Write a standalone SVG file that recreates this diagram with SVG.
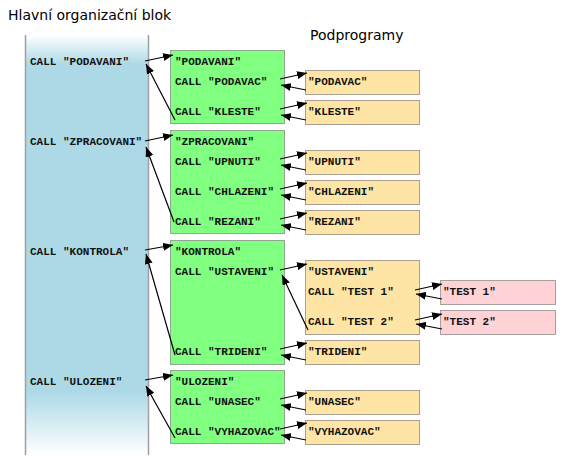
<svg xmlns="http://www.w3.org/2000/svg" width="570" height="460" viewBox="0 0 570 460">
<style>
.h{font-family:"DejaVu Sans",Verdana,sans-serif;font-size:14px;fill:#000}
.m{font-family:"Liberation Mono","Courier New",monospace;font-size:11px;font-weight:bold;fill:#111}
.g{fill:#80ff80;stroke:#8fa88f;stroke-width:1}
.y{fill:#ffe5a5;stroke:#a8a090;stroke-width:1}
.p{fill:#ffd3d6;stroke:#a8a0a0;stroke-width:1}
.a{fill:none;stroke:#000;stroke-width:1.2;marker-end:url(#ah)}
</style>
<defs>
<linearGradient id="bg" x1="0" y1="0" x2="0" y2="1">
<stop offset="0" stop-color="#ffffff"/>
<stop offset="0.07" stop-color="#add9e7"/>
<stop offset="0.85" stop-color="#add9e7"/>
<stop offset="1" stop-color="#ffffff"/>
</linearGradient>
<marker id="ah" viewBox="0 0 10 8" refX="10" refY="4" markerWidth="10" markerHeight="8" markerUnits="userSpaceOnUse" orient="auto">
<path d="M0,0 L10,4 L0,8 Z" fill="#000"/>
</marker>
</defs>
<rect width="570" height="460" fill="#fff"/>
<text class="h" x="8" y="20">Hlavní organizační blok</text>
<text class="h" x="310" y="40">Podprogramy</text>

<g id="main">
<rect x="25" y="35" width="124" height="420" fill="url(#bg)"/>
<line x1="25.5" y1="35" x2="25.5" y2="455" stroke="#a0a0a0" stroke-width="1.5"/>
<line x1="148.5" y1="35" x2="148.5" y2="455" stroke="#a0a0a0" stroke-width="1.5"/>
<text class="m" x="30" y="65">CALL "PODAVANI"</text>
<text class="m" x="30" y="145">CALL "ZPRACOVANI"</text>
<text class="m" x="30" y="255">CALL "KONTROLA"</text>
<text class="m" x="30" y="385">CALL "ULOZENI"</text>
</g>

<g id="podavani">
<rect class="g" x="170.5" y="50.5" width="114" height="73"/>
<text class="m" x="175" y="65">"PODAVANI"</text>
<text class="m" x="175" y="85">CALL "PODAVAC"</text>
<text class="m" x="175" y="115">CALL "KLESTE"</text>
</g>
<g id="zpracovani">
<rect class="g" x="170.5" y="130.5" width="114" height="103"/>
<text class="m" x="175" y="145">"ZPRACOVANI"</text>
<text class="m" x="175" y="165">CALL "UPNUTI"</text>
<text class="m" x="175" y="195">CALL "CHLAZENI"</text>
<text class="m" x="175" y="225">CALL "REZANI"</text>
</g>
<g id="kontrola">
<rect class="g" x="170.5" y="240.5" width="114" height="124"/>
<text class="m" x="175" y="255">"KONTROLA"</text>
<text class="m" x="175" y="275">CALL "USTAVENI"</text>
<text class="m" x="175" y="355">CALL "TRIDENI"</text>
</g>
<g id="ulozeni">
<rect class="g" x="170.5" y="370.5" width="114" height="73"/>
<text class="m" x="175" y="385">"ULOZENI"</text>
<text class="m" x="175" y="405">CALL "UNASEC"</text>
<text class="m" x="175" y="435">CALL "VYHAZOVAC"</text>
</g>

<g id="podavac"><rect class="y" x="305.5" y="70.5" width="114" height="24"/><text class="m" x="308" y="85">"PODAVAC"</text></g>
<g id="kleste"><rect class="y" x="305.5" y="100.5" width="114" height="24"/><text class="m" x="308" y="115">"KLESTE"</text></g>
<g id="upnuti"><rect class="y" x="305.5" y="150.5" width="114" height="24"/><text class="m" x="308" y="165">"UPNUTI"</text></g>
<g id="chlazeni"><rect class="y" x="305.5" y="180.5" width="114" height="24"/><text class="m" x="308" y="195">"CHLAZENI"</text></g>
<g id="rezani"><rect class="y" x="305.5" y="210.5" width="114" height="24"/><text class="m" x="308" y="225">"REZANI"</text></g>
<g id="ustaveni">
<rect class="y" x="305.5" y="260.5" width="114" height="74"/>
<text class="m" x="308" y="275">"USTAVENI"</text>
<text class="m" x="308" y="295">CALL "TEST 1"</text>
<text class="m" x="308" y="325">CALL "TEST 2"</text>
</g>
<g id="trideni"><rect class="y" x="305.5" y="340.5" width="114" height="24"/><text class="m" x="308" y="355">"TRIDENI"</text></g>
<g id="unasec"><rect class="y" x="305.5" y="390.5" width="114" height="24"/><text class="m" x="308" y="405">"UNASEC"</text></g>
<g id="vyhazovac"><rect class="y" x="305.5" y="420.5" width="114" height="24"/><text class="m" x="308" y="435">"VYHAZOVAC"</text></g>
<g id="test1"><rect class="p" x="440.5" y="280.5" width="115" height="24"/><text class="m" x="443" y="295">"TEST 1"</text></g>
<g id="test2"><rect class="p" x="440.5" y="310.5" width="115" height="24"/><text class="m" x="443" y="325">"TEST 2"</text></g>

<g id="connectors">
<line class="a" x1="145" y1="61" x2="173" y2="55"/>
<line class="a" x1="175" y1="120" x2="146" y2="64"/>
<line class="a" x1="145" y1="141" x2="173" y2="135"/>
<line class="a" x1="174" y1="222" x2="146" y2="147"/>
<line class="a" x1="145" y1="250" x2="173" y2="245"/>
<line class="a" x1="175" y1="355" x2="146" y2="254"/>
<line class="a" x1="145" y1="380" x2="173" y2="375"/>
<line class="a" x1="175" y1="438" x2="146" y2="386"/>

<line class="a" x1="280" y1="79" x2="307" y2="73"/>
<line class="a" x1="306" y1="90" x2="281" y2="85"/>
<line class="a" x1="280" y1="109" x2="307" y2="103"/>
<line class="a" x1="306" y1="120" x2="281" y2="115"/>
<line class="a" x1="280" y1="159" x2="307" y2="153"/>
<line class="a" x1="306" y1="170" x2="281" y2="165"/>
<line class="a" x1="280" y1="189" x2="307" y2="183"/>
<line class="a" x1="306" y1="200" x2="281" y2="195"/>
<line class="a" x1="280" y1="219" x2="307" y2="213"/>
<line class="a" x1="306" y1="230" x2="281" y2="225"/>
<line class="a" x1="280" y1="270" x2="307" y2="264"/>
<line class="a" x1="308" y1="330" x2="282" y2="275"/>
<line class="a" x1="280" y1="349" x2="307" y2="343"/>
<line class="a" x1="306" y1="360" x2="281" y2="355"/>
<line class="a" x1="280" y1="399" x2="307" y2="393"/>
<line class="a" x1="306" y1="410" x2="281" y2="405"/>
<line class="a" x1="280" y1="429" x2="307" y2="423"/>
<line class="a" x1="306" y1="440" x2="281" y2="435"/>

<line class="a" x1="415" y1="290" x2="442" y2="284"/>
<line class="a" x1="442" y1="299" x2="416" y2="294"/>
<line class="a" x1="415" y1="320" x2="442" y2="314"/>
<line class="a" x1="442" y1="329" x2="416" y2="324"/>
</g>
</svg>
